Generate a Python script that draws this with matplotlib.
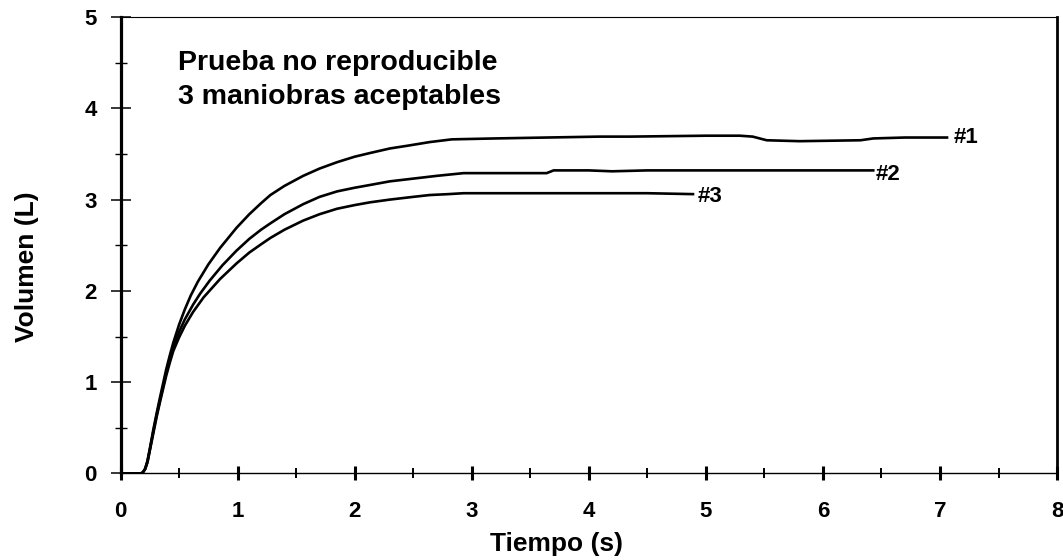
import numpy as np
import matplotlib
matplotlib.use('Agg')
import matplotlib.pyplot as plt
from matplotlib.ticker import MultipleLocator

plt.rcParams['font.family'] = ['Liberation Sans', 'DejaVu Sans']
plt.rcParams['font.weight'] = 'bold'

# curva 1
t1 = [0, 0.17, 0.19, 0.21, 0.23, 0.25, 0.28, 0.31, 0.34, 0.39, 0.42, 0.45, 0.50, 0.55,
      0.60, 0.66, 0.75, 0.85, 0.92, 0.99, 1.10, 1.20, 1.28, 1.40, 1.56, 1.70, 1.85, 2.00,
      2.13, 2.30, 2.45, 2.64, 2.83, 3.20, 3.64, 4.09, 4.35, 5.00, 5.29, 5.40, 5.52, 5.80,
      6.32, 6.43, 6.70, 7.06]
v1 = [0, 0, 0.01, 0.05, 0.14, 0.27, 0.48, 0.67, 0.85, 1.14, 1.29, 1.43, 1.63, 1.80,
      1.95, 2.10, 2.29, 2.47, 2.58, 2.69, 2.84, 2.96, 3.05, 3.15, 3.26, 3.34, 3.41, 3.47,
      3.51, 3.56, 3.59, 3.63, 3.66, 3.67, 3.68, 3.69, 3.69, 3.70, 3.70, 3.69, 3.65, 3.64,
      3.65, 3.67, 3.68, 3.68]
# curva 2
t2 = [0, 0.17, 0.19, 0.21, 0.23, 0.25, 0.28, 0.31, 0.34, 0.39, 0.42, 0.45, 0.50, 0.55,
      0.62, 0.68, 0.76, 0.87, 0.99, 1.10, 1.20, 1.28, 1.40, 1.56, 1.70, 1.85, 2.00, 2.13,
      2.30, 2.50, 2.70, 2.93, 3.30, 3.64, 3.70, 4.00, 4.20, 4.50, 5.50, 6.43]
v2 = [0, 0, 0.01, 0.05, 0.13, 0.26, 0.46, 0.65, 0.82, 1.10, 1.25, 1.38, 1.55, 1.69,
      1.85, 1.97, 2.11, 2.28, 2.44, 2.57, 2.67, 2.74, 2.84, 2.95, 3.03, 3.09, 3.13, 3.16,
      3.20, 3.23, 3.26, 3.29, 3.29, 3.29, 3.32, 3.32, 3.31, 3.32, 3.32, 3.32]
# curva 3
t3 = [0, 0.17, 0.19, 0.21, 0.23, 0.25, 0.28, 0.31, 0.34, 0.39, 0.42, 0.45, 0.50, 0.55,
      0.62, 0.71, 0.85, 0.99, 1.10, 1.20, 1.28, 1.40, 1.56, 1.70, 1.85, 2.00, 2.13, 2.30,
      2.50, 2.64, 2.80, 2.93, 3.50, 4.00, 4.50, 4.89]
v3 = [0, 0, 0.01, 0.05, 0.12, 0.25, 0.44, 0.63, 0.80, 1.07, 1.21, 1.34, 1.49, 1.62,
      1.77, 1.93, 2.13, 2.30, 2.42, 2.51, 2.58, 2.67, 2.77, 2.84, 2.90, 2.94, 2.97, 3.00,
      3.03, 3.05, 3.06, 3.07, 3.07, 3.07, 3.07, 3.06]

etiquetas = ['#1', '#2', '#3']
pos_etiquetas = [(7.12, 3.68), (6.45, 3.28), (4.93, 3.03)]
textos = ['Prueba no reproducible', '3 maniobras aceptables']

fig = plt.figure(figsize=(10.63, 5.6), dpi=100)
ax = fig.add_axes([0.1134, 0.1545, 0.881, 0.8151])

for t, v in [(t1, v1), (t2, v2), (t3, v3)]:
    ax.plot(t, v, color='black', lw=1.9, solid_joinstyle='round')

for lab, (x, y) in zip(etiquetas, pos_etiquetas):
    ax.text(x, y, lab, fontsize=16, fontweight='bold', ha='left', va='center')

ax.text(0.49, 4.50, textos[0], fontsize=20.5, fontweight='bold', ha='left', va='center')
ax.text(0.49, 4.12, textos[1], fontsize=20.5, fontweight='bold', ha='left', va='center')

ax.set_xlim(0, 8)
ax.set_ylim(0, 5)
ax.xaxis.set_major_locator(MultipleLocator(1))
ax.xaxis.set_minor_locator(MultipleLocator(0.5))
ax.yaxis.set_major_locator(MultipleLocator(1))
ax.yaxis.set_minor_locator(MultipleLocator(0.5))

ax.tick_params(axis='x', which='major', direction='inout', length=9.4, width=2.2,
               pad=15, labelsize=16)
ax.tick_params(axis='x', which='minor', direction='inout', length=6.5, width=1.4)
ax.tick_params(axis='y', which='major', direction='inout', length=14.4, width=1.1,
               pad=10, labelsize=16)
ax.tick_params(axis='y', which='minor', direction='inout', length=8, width=1.0)
for lbl in ax.get_xticklabels() + ax.get_yticklabels():
    lbl.set_fontweight('bold')

ax.spines['left'].set_linewidth(2.3)
ax.spines['right'].set_linewidth(2.0)
ax.spines['bottom'].set_linewidth(1.0)
ax.spines['top'].set_linewidth(0.8)

ax.set_xlabel('Tiempo (s)', fontsize=19, fontweight='bold')
ax.set_ylabel('Volumen (L)', fontsize=19, fontweight='bold')
ax.xaxis.set_label_coords(0.465, -0.128)
ax.yaxis.set_label_coords(-0.0875, 0.454)

fig.savefig('out.png', dpi=100)
